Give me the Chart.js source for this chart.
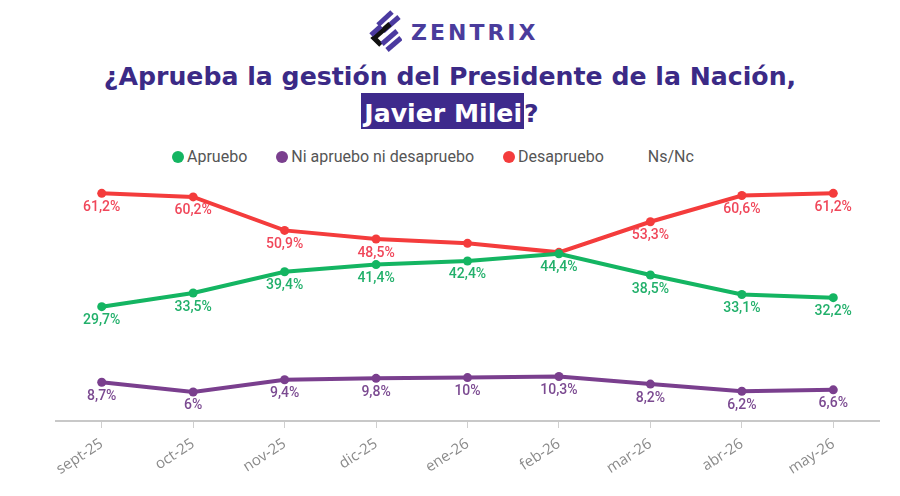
<!DOCTYPE html>
<html lang="es">
<head>
<meta charset="utf-8">
<title>¿Aprueba la gestión del Presidente de la Nación, Javier Milei?</title>
<script src="https://cdn.jsdelivr.net/npm/chart.js@4.4.1/dist/chart.umd.min.js"></script>
<style>
  html, body { margin: 0; padding: 0; background: #fff; }
  #wrap { position: relative; width: 900px; height: 496px; overflow: hidden; }
  #chart { position: absolute; left: 0; top: 0; }
  .logo { position: absolute; left: 368px; top: 10px; display: flex; align-items: center; }
  .logo span { font: bold 22px 'DejaVu Sans', sans-serif; color: #4a3c9c; letter-spacing: 3px; margin-left: 9px; margin-top: 2px; }
  .title { position: absolute; left: 0; width: 900px; text-align: center; margin: 0;
           font: bold 25.2px/30px 'DejaVu Sans', sans-serif; color: #3b2a86; }
  .title .hl { background: #3e2a8c; color: #fff; padding: 6px 2px 1px 3px; }
  #legend { position: absolute; left: 172px; top: 147px; display: flex; align-items: center;
            font: 16px Roboto, sans-serif; color: #555; }
  #legend .item { display: flex; align-items: center; margin-right: 29px; }
  #legend .dot { width: 12px; height: 12px; border-radius: 50%; margin-right: 3px; }
</style>
</head>
<body>
<div id="wrap">
  <div class="logo">
    <svg width="34" height="42" viewBox="0 0 34 42">
      <g stroke-width="5" fill="none" stroke-linecap="butt">
        <line x1="10" y1="15" x2="24" y2="2" stroke="#4b3aa0"/>
        <line x1="15" y1="21" x2="31" y2="7" stroke="#4b3aa0"/>
        <polyline points="22,14 6,28 13,35" stroke="#111"/>
        <line x1="3" y1="25" x2="13" y2="16" stroke="#4b3aa0"/>
        <line x1="14" y1="34" x2="29" y2="21" stroke="#4b3aa0"/>
        <line x1="19" y1="40" x2="33" y2="28" stroke="#4b3aa0"/>
      </g>
    </svg>
    <span>ZENTRIX</span>
  </div>
  <p class="title" style="top:62px">¿Aprueba la gestión del Presidente de la Nación,</p>
  <p class="title" style="top:99px"><span class="hl">Javier Milei</span>?</p>
  <div id="legend"></div>
  <canvas id="chart" width="900" height="496"></canvas>
</div>
<script>
// Survey months
const months = ['sept-25', 'oct-25', 'nov-25', 'dic-25', 'ene-26', 'feb-26', 'mar-26', 'abr-26', 'may-26'];

// Series values (%)
const apruebo = [29.7, 33.5, 39.4, 41.4, 42.4, 44.4, 38.5, 33.1, 32.2];
const niApruebo = [8.7, 6, 9.4, 9.8, 10, 10.3, 8.2, 6.2, 6.6];
const desapruebo = [61.2, 60.2, 50.9, 48.5, 47.3, 44.8, 53.3, 60.6, 61.2];
const nsNc = [];

// Points whose value label is not shown in the original
const desapruebohiddenLabels = [4, 5];

// Format like 61,2%
function pct(v) {
    return String(v).replace('.', ',') + '%';
}

// Value labels under each point
const pointLabels = {
    id: 'pointLabels',
    afterDatasetsDraw(chart) {
        const ctx = chart.ctx;
        chart.data.datasets.forEach((ds, i) => {
            if (!ds.labelColor) return;
            const meta = chart.getDatasetMeta(i);
            ctx.save();
            ctx.font = '500 14px Roboto, sans-serif';
            ctx.fillStyle = ds.labelColor;
            ctx.textAlign = 'center';
            ctx.textBaseline = 'middle';
            meta.data.forEach((pt, j) => {
                if ((ds.hiddenLabels || []).includes(j)) return;
                ctx.fillText(pct(ds.data[j]), pt.x, pt.y + 14);
            });
            ctx.restore();
        });
    }
};

function lineSet(label, data, color, labelColor) {
    return {
        label,
        data,
        borderColor: color,
        backgroundColor: color,
        pointBackgroundColor: color,
        pointBorderWidth: 0,
        pointRadius: 4.5,
        borderWidth: 4,
        tension: 0,
        labelColor
    };
}

const datasets = [
    lineSet('Apruebo', apruebo, '#14b562', '#22b06b'),
    lineSet('Ni apruebo ni desapruebo', niApruebo, '#7a3f8e', '#7b4a91'),
    { ...lineSet('Desapruebo', desapruebo, '#f43c3c', '#f0475a'), hiddenLabels: desapruebohiddenLabels },
    { label: 'Ns/Nc', data: nsNc, borderColor: 'transparent', backgroundColor: 'transparent' }
];

const chart = new Chart(document.getElementById('chart'), {
    type: 'line',
    data: { labels: months, datasets },
    options: {
        responsive: false,
        animation: false,
        layout: { padding: { top: 180, left: 56, right: 21, bottom: 0 } },
        plugins: {
            legend: { display: false },
            tooltip: { enabled: false }
        },
        scales: {
            y: { display: false, min: -2.06, max: 64.9 },
            x: {
                offset: true,
                grid: { drawOnChartArea: false, drawTicks: true, tickLength: 7, color: '#cfcfcf' },
                border: { display: true, color: '#c8c8c8', width: 2 },
                ticks: {
                    color: '#8a8a8a',
                    font: { family: 'Open Sans', size: 15 },
                    minRotation: 33,
                    maxRotation: 33,
                    padding: 7
                },
                afterFit(scale) { scale.height = 75; }
            }
        }
    },
    plugins: [pointLabels]
});

// HTML legend built from the datasets
const legendEl = document.getElementById('legend');
chart.data.datasets.forEach(ds => {
    const item = document.createElement('div');
    item.className = 'item';
    const dot = document.createElement('span');
    dot.className = 'dot';
    dot.style.background = ds.backgroundColor;
    const txt = document.createElement('span');
    txt.textContent = ds.label;
    item.appendChild(dot);
    item.appendChild(txt);
    legendEl.appendChild(item);
});
</script>
</body>
</html>
